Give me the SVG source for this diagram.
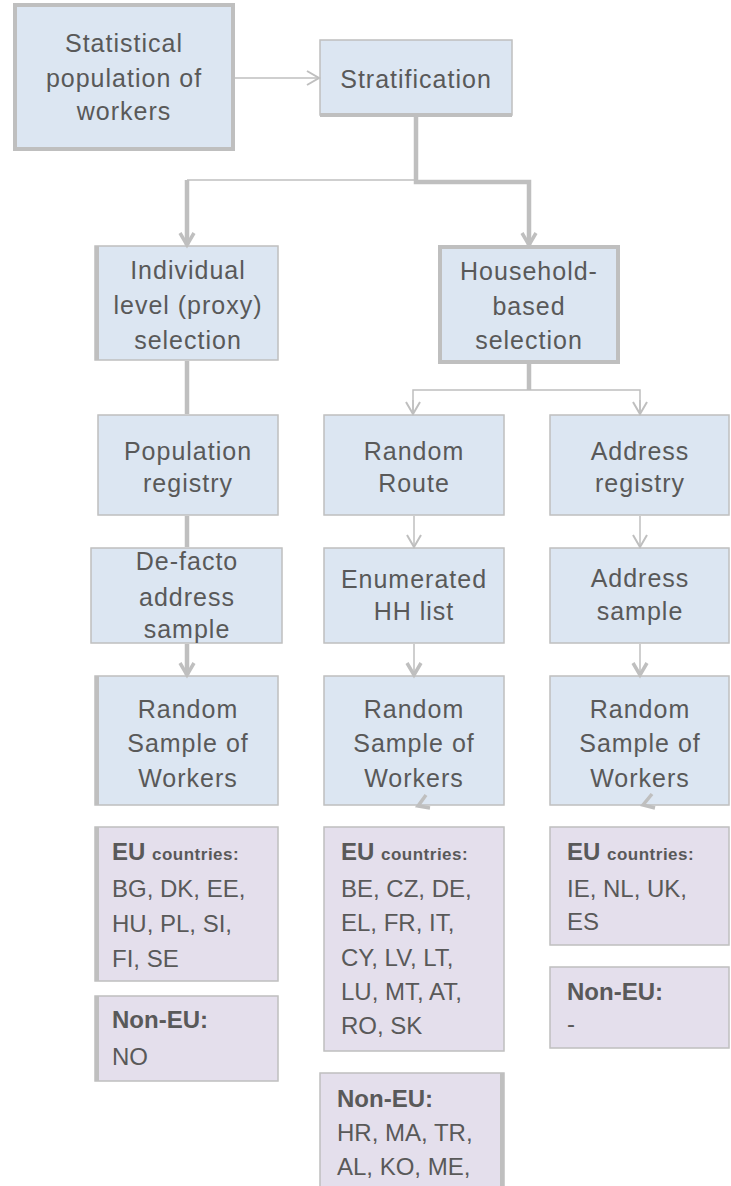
<svg xmlns="http://www.w3.org/2000/svg" width="731" height="1186" viewBox="0 0 731 1186">
<style>
.n{fill:#dce6f2;stroke:#bfbfbf;stroke-width:1.5}
.c{fill:#e4dfec;stroke:#bfbfbf;stroke-width:1.5}
.thick{fill:#dce6f2;stroke:#bfbfbf;stroke-width:4}
.edge{fill:none;stroke:#bfbfbf;stroke-width:4}
.t{font-family:"Liberation Sans",Arial,sans-serif;font-size:25px;letter-spacing:1px;fill:#595959;text-anchor:middle}
.l{font-family:"Liberation Sans",Arial,sans-serif;font-size:24px;fill:#595959}
.b{font-weight:bold}
.s{font-size:17px;letter-spacing:0.5px}
.w1{fill:none;stroke:#bfbfbf;stroke-width:1.5}
.w4{fill:none;stroke:#bfbfbf;stroke-width:4.5}
.ah{fill:none;stroke:#bfbfbf;stroke-width:2;stroke-linejoin:miter}
.ahT{fill:none;stroke:#bfbfbf;stroke-width:3.5;stroke-linejoin:miter}
</style>
<defs>
<marker id="arr" markerUnits="userSpaceOnUse" markerWidth="18" markerHeight="18" viewBox="0 0 18 18" refX="15" refY="9" orient="auto" overflow="visible">
<path d="M3,2 L15,9 L3,16" class="ah"/>
</marker>
<marker id="arrT" markerUnits="userSpaceOnUse" markerWidth="18" markerHeight="18" viewBox="0 0 18 18" refX="15" refY="9" orient="auto" overflow="visible">
<path d="M3,2 L15,9 L3,16" class="ahT"/>
</marker>
</defs>

<g id="statistical">
<rect x="15" y="5" width="218" height="144" class="thick"/>
<text class="t" x="124" y="52">Statistical</text>
<text class="t" x="124" y="87">population of</text>
<text class="t" x="124" y="120">workers</text>
</g>

<g id="stratification">
<rect x="320" y="40" width="192" height="75" class="n"/>
<line x1="320" y1="115" x2="512" y2="115" class="edge"/>
<text class="t" x="416" y="88">Stratification</text>
</g>

<g id="individual">
<rect x="95" y="246" width="183" height="114" class="n"/>
<line x1="97" y1="246" x2="97" y2="360" class="edge"/>
<text class="t" x="188" y="279">Individual</text>
<text class="t" x="188" y="314">level (proxy)</text>
<text class="t" x="188" y="349">selection</text>
</g>

<g id="household">
<rect x="440" y="247" width="178" height="115" class="thick"/>
<text class="t" x="529" y="280">Household-</text>
<text class="t" x="529" y="315">based</text>
<text class="t" x="529" y="349">selection</text>
</g>

<g id="population-registry">
<rect x="98" y="415" width="180" height="100" class="n"/>
<text class="t" x="188" y="460">Population</text>
<text class="t" x="188" y="492">registry</text>
</g>

<g id="random-route">
<rect x="324" y="415" width="180" height="100" class="n"/>
<text class="t" x="414" y="460">Random</text>
<text class="t" x="414" y="492">Route</text>
</g>

<g id="address-registry">
<rect x="550" y="415" width="179" height="100" class="n"/>
<text class="t" x="640" y="460">Address</text>
<text class="t" x="640" y="492">registry</text>
</g>

<g id="defacto-sample">
<rect x="91" y="548" width="191" height="95" class="n"/>
<text class="t" x="187" y="570">De-facto</text>
<text class="t" x="187" y="606">address</text>
<text class="t" x="187" y="638">sample</text>
</g>

<g id="enumerated-list">
<rect x="324" y="548" width="180" height="95" class="n"/>
<text class="t" x="414" y="588">Enumerated</text>
<text class="t" x="414" y="620">HH list</text>
</g>

<g id="address-sample">
<rect x="550" y="548" width="179" height="95" class="n"/>
<text class="t" x="640" y="587">Address</text>
<text class="t" x="640" y="620">sample</text>
</g>

<g id="random-sample-1">
<rect x="95" y="676" width="183" height="129" class="n"/>
<line x1="97" y1="676" x2="97" y2="805" class="edge"/>
<text class="t" x="188" y="718">Random</text>
<text class="t" x="188" y="752">Sample of</text>
<text class="t" x="188" y="787">Workers</text>
</g>

<g id="random-sample-2">
<rect x="324" y="676" width="180" height="129" class="n"/>
<text class="t" x="414" y="718">Random</text>
<text class="t" x="414" y="752">Sample of</text>
<text class="t" x="414" y="787">Workers</text>
</g>

<g id="random-sample-3">
<rect x="550" y="676" width="179" height="129" class="n"/>
<text class="t" x="640" y="718">Random</text>
<text class="t" x="640" y="752">Sample of</text>
<text class="t" x="640" y="787">Workers</text>
</g>

<g id="eu-1">
<rect x="95" y="827" width="183" height="154" class="c"/>
<line x1="97" y1="827" x2="97" y2="981" class="edge"/>
<text class="l" x="112" y="860"><tspan class="b">EU</tspan> <tspan class="b s">countries:</tspan></text>
<text class="l" x="112" y="897">BG, DK, EE,</text>
<text class="l" x="112" y="932">HU, PL, SI,</text>
<text class="l" x="112" y="967">FI, SE</text>
</g>

<g id="noneu-1">
<rect x="95" y="996" width="183" height="85" class="c"/>
<line x1="97" y1="996" x2="97" y2="1081" class="edge"/>
<text class="l b" x="112" y="1028">Non-EU:</text>
<text class="l" x="112" y="1065">NO</text>
</g>

<g id="eu-2">
<rect x="324" y="827" width="180" height="224" class="c"/>
<text class="l" x="341" y="860"><tspan class="b">EU</tspan> <tspan class="b s">countries:</tspan></text>
<text class="l" x="341" y="897">BE, CZ, DE,</text>
<text class="l" x="341" y="931">EL, FR, IT,</text>
<text class="l" x="341" y="966">CY, LV, LT,</text>
<text class="l" x="341" y="1000">LU, MT, AT,</text>
<text class="l" x="341" y="1034">RO, SK</text>
</g>

<g id="noneu-2">
<rect x="320" y="1073" width="184" height="140" class="c"/>
<line x1="502" y1="1073" x2="502" y2="1213" class="edge"/>
<text class="l b" x="337" y="1107">Non-EU:</text>
<text class="l" x="337" y="1141">HR, MA, TR,</text>
<text class="l" x="337" y="1175">AL, KO, ME,</text>
</g>

<g id="eu-3">
<rect x="550" y="827" width="179" height="118" class="c"/>
<text class="l" x="567" y="860"><tspan class="b">EU</tspan> <tspan class="b s">countries:</tspan></text>
<text class="l" x="567" y="897">IE, NL, UK,</text>
<text class="l" x="567" y="930">ES</text>
</g>

<g id="noneu-3">
<rect x="550" y="967" width="179" height="81" class="c"/>
<text class="l b" x="567" y="1000">Non-EU:</text>
<text class="l" x="567" y="1032">-</text>
</g>

<g id="connectors">
<line x1="235" y1="78" x2="319" y2="78" class="w1" marker-end="url(#arr)"/>
<path d="M416,117 V182 H529 V245" class="w4" marker-end="url(#arrT)"/>
<path d="M416,180 H187" class="w1"/>
<line x1="187" y1="180" x2="187" y2="245" class="w4" marker-end="url(#arrT)"/>
<line x1="187" y1="361" x2="187" y2="414" class="w4"/>
<line x1="529" y1="364" x2="529" y2="390" class="w4"/>
<path d="M413,414 V390 H640 V414" class="w1"/>
<line x1="413" y1="400" x2="413" y2="414" class="w1" marker-end="url(#arr)"/>
<line x1="640" y1="400" x2="640" y2="414" class="w1" marker-end="url(#arr)"/>
<line x1="187" y1="516" x2="187" y2="547" class="w4"/>
<line x1="414" y1="516" x2="414" y2="547" class="w1" marker-end="url(#arr)"/>
<line x1="640" y1="516" x2="640" y2="547" class="w1" marker-end="url(#arr)"/>
<line x1="187" y1="644" x2="187" y2="675" class="w4" marker-end="url(#arrT)"/>
<line x1="414" y1="644" x2="414" y2="675" class="w1" marker-end="url(#arrT)"/>
<line x1="640" y1="644" x2="640" y2="675" class="w1" marker-end="url(#arrT)"/>
<polyline points="426,795 418,806 430,808" class="ahT"/>
<polyline points="652,794 643,805 655,808" class="ahT"/>
</g>
</svg>
